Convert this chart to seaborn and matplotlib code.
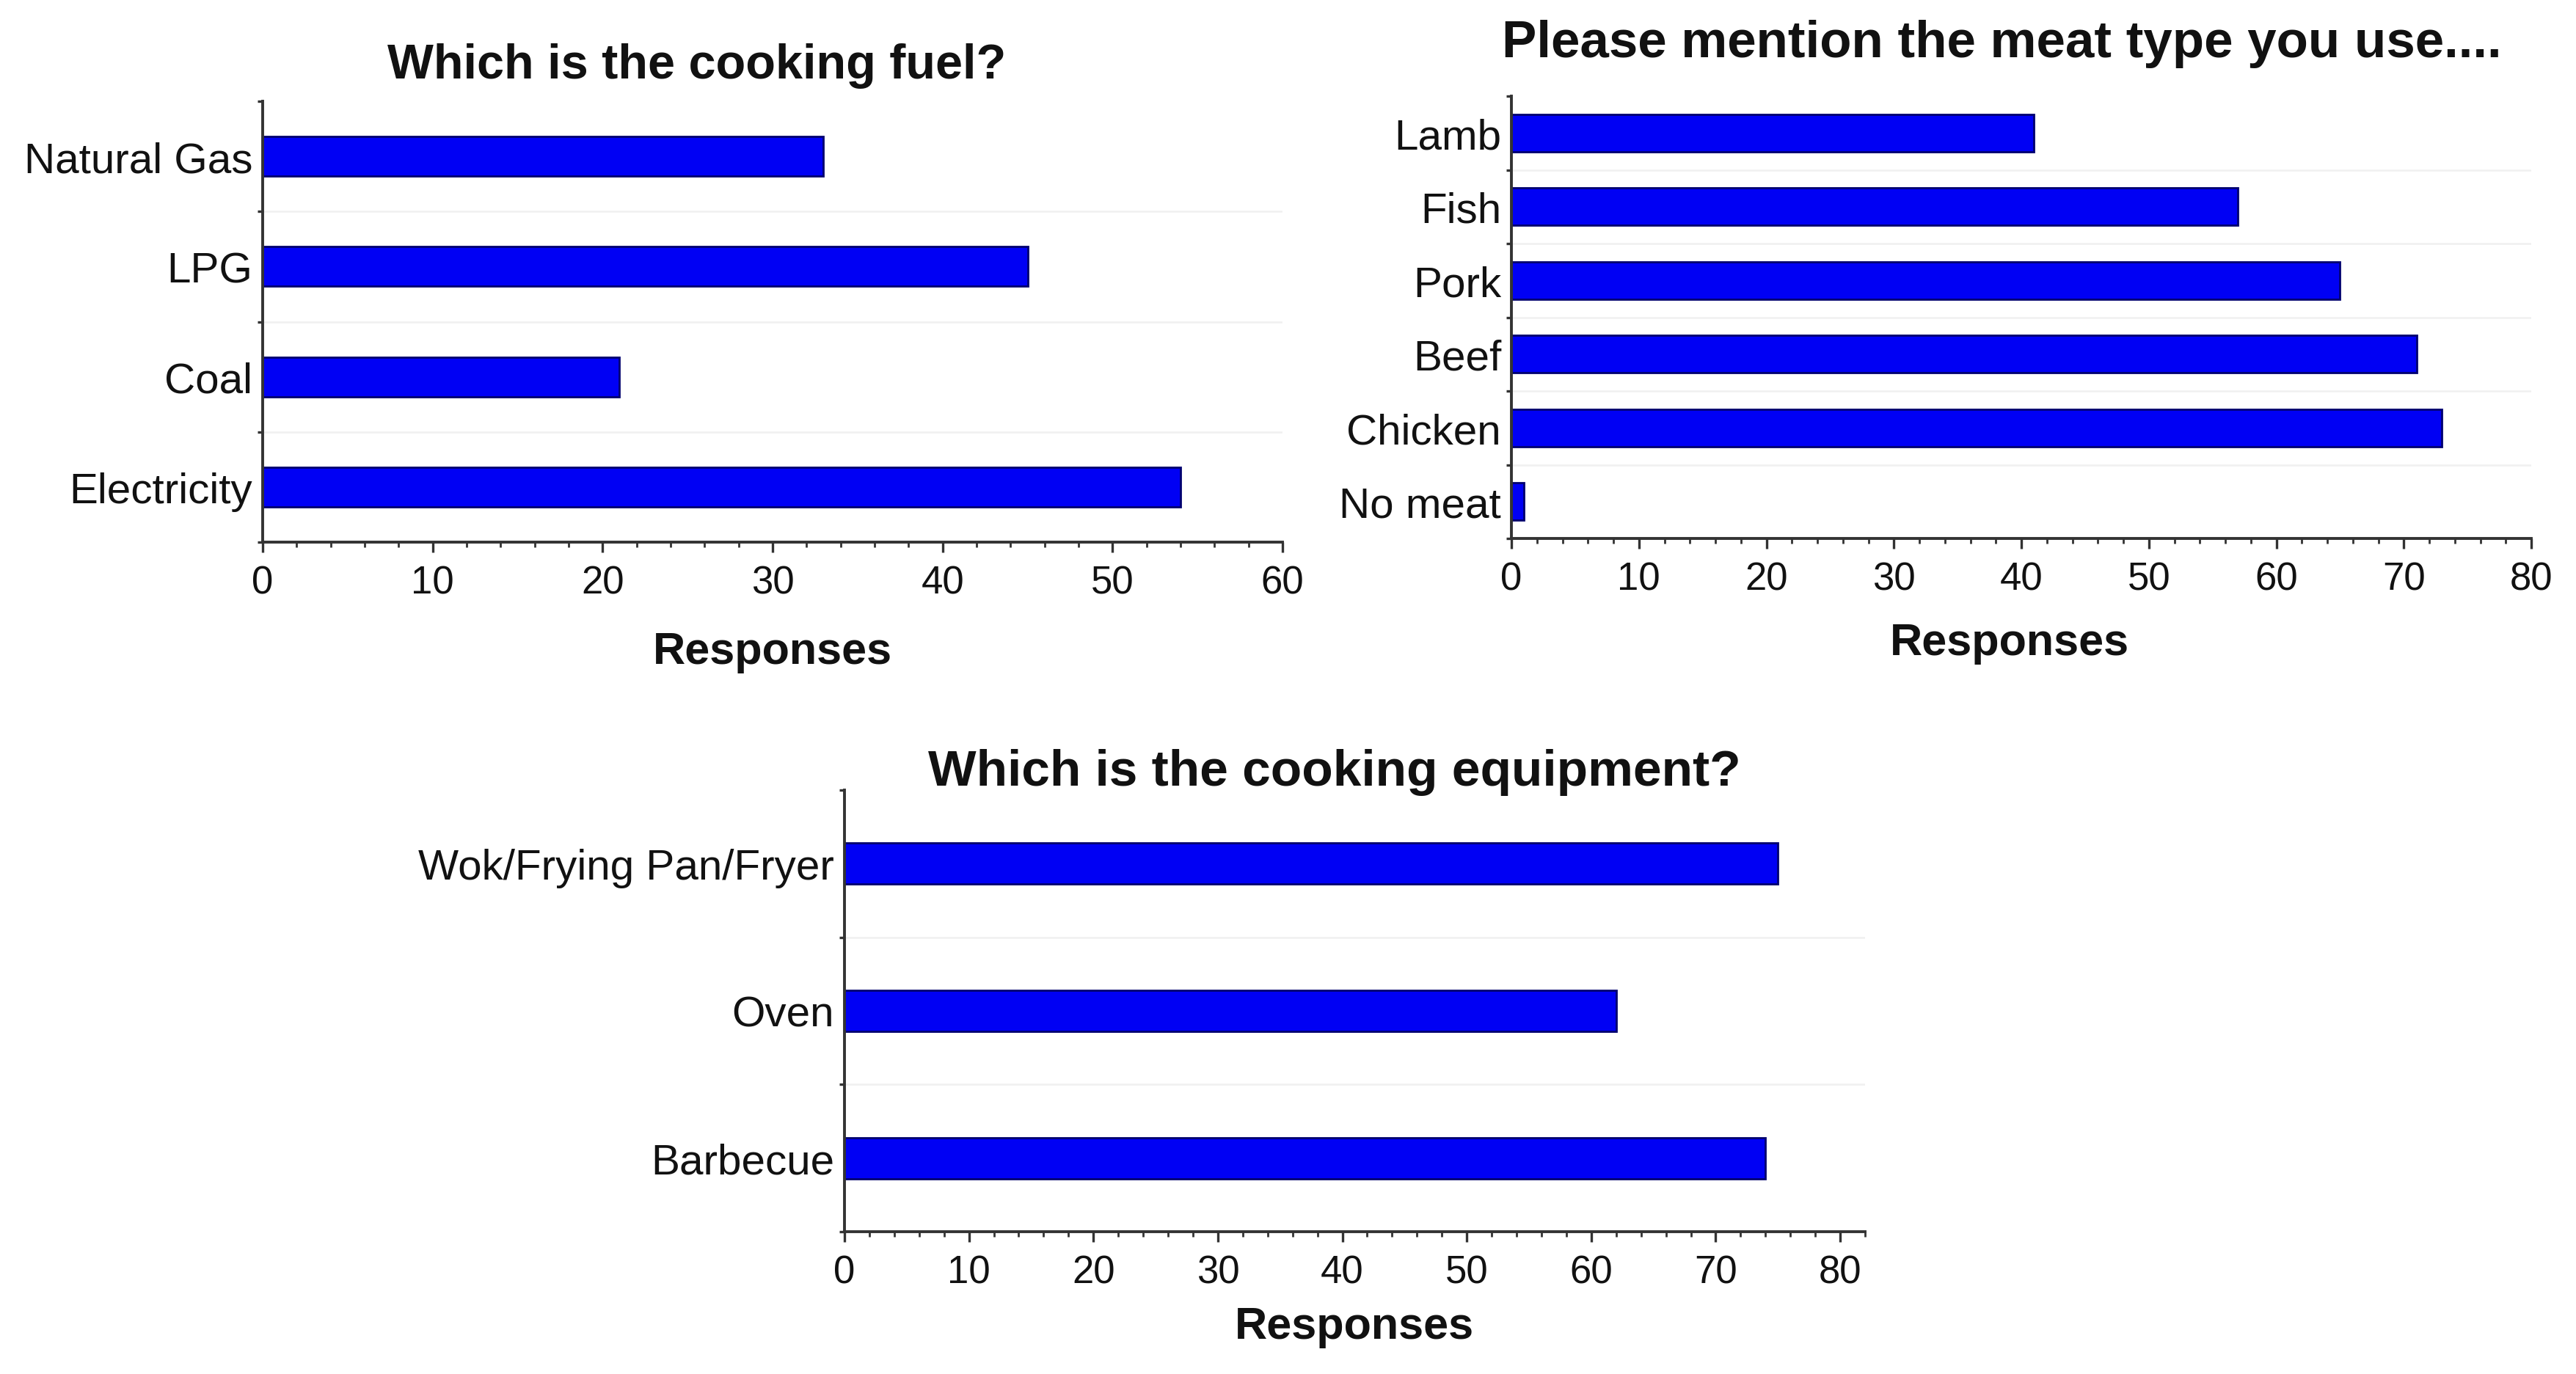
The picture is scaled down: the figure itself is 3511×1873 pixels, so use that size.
import matplotlib
matplotlib.use("Agg")
import matplotlib.pyplot as plt
import seaborn as sns
import numpy as np
from matplotlib.ticker import MultipleLocator, FixedLocator, NullFormatter

# ---- data ----
fuel_categories = ["Natural Gas", "LPG", "Coal", "Electricity"]
fuel_values = [33, 45, 21, 54]

meat_categories = ["Lamb", "Fish", "Pork", "Beef", "Chicken", "No meat"]
meat_values = [41, 57, 65, 71, 73, 1]

equip_categories = ["Wok/Frying Pan/Fryer", "Oven", "Barbecue"]
equip_values = [75, 62, 74]

titles = ["Which is the cooking fuel?",
          "Please mention the meat type you use....",
          "Which is the cooking equipment?"]
xlabel = "Responses"

sns.set_theme(style="white")
plt.rcParams['font.family'] = ['Liberation Sans', 'DejaVu Sans']

W, H = 3512, 1874
DPI = 200
fig = plt.figure(figsize=(W / DPI, H / DPI), dpi=DPI)
fig.patch.set_facecolor("white")

BAR = "#0000F4"
EDGE = "#00006e"


def px_axes(left, right, top, bottom):
    return fig.add_axes([left / W, 1 - bottom / H, (right - left) / W, (bottom - top) / H])


def draw(ax, cats, vals, xmax, major, width):
    sns.barplot(x=vals, y=cats, orient="h", color=BAR, width=width,
                edgecolor=EDGE, linewidth=1.0, saturation=1, ax=ax)
    n = len(cats)
    ax.set_xlim(0, xmax)
    ax.set_ylim(n - 0.5, -0.5)
    ax.xaxis.set_major_locator(MultipleLocator(major))
    ax.xaxis.set_minor_locator(MultipleLocator(2))
    ax.yaxis.set_minor_locator(FixedLocator(np.arange(-0.5, n, 1.0)))
    ax.yaxis.set_minor_formatter(NullFormatter())
    ax.set_xlabel("")
    ax.set_ylabel("")
    for s in ["top", "right"]:
        ax.spines[s].set_visible(False)
    for s in ["left", "bottom"]:
        ax.spines[s].set_color("#333333")
        ax.spines[s].set_linewidth(1.4)
    ax.tick_params(axis="x", which="major", direction="out", length=5, width=1.2,
                   color="#333333", labelsize=19, pad=6, bottom=True)
    ax.tick_params(axis="x", which="minor", direction="out", length=2.5, width=1.0,
                   color="#333333", bottom=True)
    ax.tick_params(axis="y", which="major", length=0, labelsize=21, pad=5)
    ax.tick_params(axis="y", which="minor", direction="out", length=2.5, width=1.2,
                   color="#333333", left=True)
    ax.grid(False)
    # faint separators between categories (interior boundaries only)
    for b in np.arange(0.5, n - 1, 1.0):
        ax.axhline(b, color="#f0f0f0", linewidth=0.9, zorder=0)
    ax.set_axisbelow(True)
    for lab in ax.get_xticklabels() + ax.get_yticklabels():
        lab.set_color("#111111")


ax1 = px_axes(358, 1748, 139, 740)
draw(ax1, fuel_categories, fuel_values, 60, 10, 0.36)

ax2 = px_axes(2060, 3450, 132, 735)
draw(ax2, meat_categories, meat_values, 80, 10, 0.51)

ax3 = px_axes(1151, 2542, 1078, 1680)
draw(ax3, equip_categories, equip_values, 82, 10, 0.28)

# titles
fig.text(950 / W, 1 - 90 / H, titles[0], ha="center", va="center",
         fontsize=24, fontweight="bold", color="#111111")
fig.text(2728 / W, 1 - 60 / H, titles[1], ha="center", va="center",
         fontsize=25.5, fontweight="bold", color="#111111")
fig.text(1819 / W, 1 - 1053 / H, titles[2], ha="center", va="center",
         fontsize=25, fontweight="bold", color="#111111")

# axis labels
fig.text(1053 / W, 1 - 889 / H, xlabel, ha="center", va="center",
         fontsize=22, fontweight="bold", color="#111111")
fig.text(2739 / W, 1 - 878 / H, xlabel, ha="center", va="center",
         fontsize=22, fontweight="bold", color="#111111")
fig.text(1846 / W, 1 - 1810 / H, xlabel, ha="center", va="center",
         fontsize=22, fontweight="bold", color="#111111")

fig.savefig("out.png", dpi=DPI, facecolor="white")
